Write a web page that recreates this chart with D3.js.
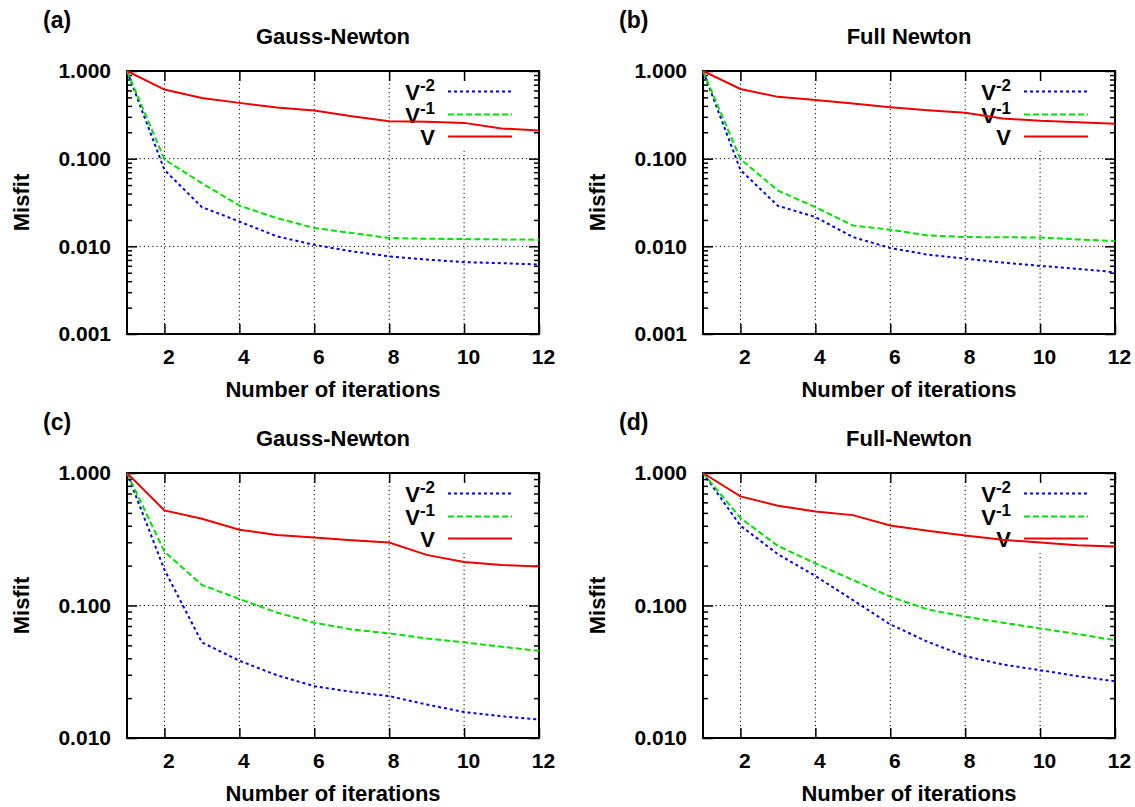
<!DOCTYPE html>
<html>
<head>
<meta charset="utf-8">
<script src="https://cdn.jsdelivr.net/npm/d3@7/dist/d3.min.js"></script>
<style>
  body { margin: 0; background: #fff; }
  svg text { font-family: 'Liberation Sans', Arial, sans-serif; font-weight: bold; fill: #000; }
</style>
</head>
<body>
<div id="chart"></div>
<script>
// iterations on the x axis
const iterations = [1, 2, 3, 4, 5, 6, 7, 8, 9, 10, 11, 12]
const xTickValues = [2, 4, 6, 8, 10, 12]

// (a) Gauss-Newton
const gnA_vm2 = [1.0, 0.0743, 0.028, 0.0192, 0.013, 0.0104, 0.00878, 0.00769, 0.00707, 0.0066, 0.00643, 0.0062]
const gnA_vm1 = [1.0, 0.098, 0.0525, 0.0292, 0.021, 0.0162, 0.0142, 0.01245, 0.0122, 0.0121, 0.012, 0.0119]
const gnA_v = [1.0, 0.614, 0.493, 0.433, 0.383, 0.354, 0.305, 0.268, 0.263, 0.256, 0.221, 0.21]

// (b) Full Newton
const fnB_vm2 = [1.0, 0.0743, 0.029, 0.0216, 0.01277, 0.00957, 0.00804, 0.00724, 0.00652, 0.00598, 0.00553, 0.00507]
const fnB_vm1 = [1.0, 0.099, 0.0433, 0.028, 0.0173, 0.0155, 0.0133, 0.01276, 0.0127, 0.0126, 0.012, 0.0115]
const fnB_v = [1.0, 0.624, 0.507, 0.468, 0.425, 0.386, 0.357, 0.333, 0.287, 0.27, 0.261, 0.25]

// (c) Gauss-Newton
const gnC_vm2 = [1.0, 0.186, 0.0527, 0.0383, 0.0298, 0.0246, 0.0223, 0.0207, 0.0179, 0.0157, 0.0146, 0.0138]
const gnC_vm1 = [1.0, 0.255, 0.143, 0.112, 0.0885, 0.0742, 0.066, 0.0616, 0.0564, 0.0527, 0.0489, 0.0455]
const gnC_v = [1.0, 0.522, 0.451, 0.373, 0.341, 0.326, 0.311, 0.299, 0.241, 0.213, 0.202, 0.197]

// (d) Full-Newton
const fnD_vm2 = [1.0, 0.4, 0.244, 0.167, 0.11, 0.072, 0.0532, 0.0415, 0.0359, 0.0325, 0.0293, 0.0268]
const fnD_vm1 = [1.0, 0.457, 0.282, 0.208, 0.156, 0.1166, 0.0935, 0.0823, 0.0742, 0.0672, 0.0608, 0.0548]
const fnD_v = [1.0, 0.666, 0.566, 0.513, 0.481, 0.402, 0.366, 0.338, 0.313, 0.299, 0.285, 0.279]

const seriesNames = [
  { base: 'V', sup: '-2' },
  { base: 'V', sup: '-1' },
  { base: 'V', sup: '' }
]
const seriesColors = ['#0000ee', '#00e000', '#ee0000']
const seriesDash = ['3,3', '6,3', null]

const panels = [
  { tag: '(a)', title: 'Gauss-Newton', yMin: 0.001, left: 127, right: 539, top: 71, bottom: 334, data: [gnA_vm2, gnA_vm1, gnA_v] },
  { tag: '(b)', title: 'Full Newton', yMin: 0.001, left: 703, right: 1115, top: 71, bottom: 334, data: [fnB_vm2, fnB_vm1, fnB_v] },
  { tag: '(c)', title: 'Gauss-Newton', yMin: 0.01, left: 127, right: 539, top: 473, bottom: 738, data: [gnC_vm2, gnC_vm1, gnC_v] },
  { tag: '(d)', title: 'Full-Newton', yMin: 0.01, left: 703, right: 1115, top: 473, bottom: 738, data: [fnD_vm2, fnD_vm1, fnD_v] }
]

const svg = d3
  .select('#chart')
  .append('svg')
  .attr('width', 1135)
  .attr('height', 807)

panels.forEach(drawPanel)

function drawPanel(p) {
  const g = svg.append('g')

  const xScale = d3.scaleLinear().domain([1, 12]).range([p.left, p.right])
  const yScale = d3.scaleLog().domain([p.yMin, 1]).range([p.bottom, p.top])

  const decades = []
  for (let v = p.yMin; v <= 1.0001; v *= 10) decades.push(+v.toPrecision(3))
  const minors = []
  decades.slice(0, -1).forEach(d => {
    for (let m = 2; m <= 9; m++) minors.push(d * m)
  })

  // grid
  g.selectAll('.vgrid')
    .data(xTickValues.filter(d => d < 12))
    .enter()
    .append('line')
    .attr('x1', d => xScale(d))
    .attr('x2', d => xScale(d))
    .attr('y1', p.top)
    .attr('y2', p.bottom)
    .attr('stroke', '#000')
    .attr('stroke-width', 1)
    .attr('stroke-dasharray', '1.2,3')

  g.selectAll('.hgrid')
    .data(decades.filter(d => d > p.yMin && d < 1))
    .enter()
    .append('line')
    .attr('x1', p.left)
    .attr('x2', p.right)
    .attr('y1', d => yScale(d))
    .attr('y2', d => yScale(d))
    .attr('stroke', '#000')
    .attr('stroke-width', 1)
    .attr('stroke-dasharray', '1.2,3')

  // key background
  g.append('rect')
    .attr('x', p.right - 141)
    .attr('y', p.top + 1)
    .attr('width', 139)
    .attr('height', 79)
    .attr('fill', '#fff')

  // axes with inward ticks
  const styleAxis = sel => {
    sel.select('.domain').remove()
    sel.selectAll('line').attr('stroke', '#000').attr('stroke-width', 1.5)
    sel.attr('font-family', null).attr('font-size', null)
    sel.selectAll('text').attr('font-size', 21)
  }

  g.append('g')
    .attr('transform', 'translate(0,' + p.bottom + ')')
    .call(d3.axisBottom(xScale).tickValues(xTickValues).tickSizeInner(-10).tickSizeOuter(0).tickPadding(15))
    .call(styleAxis)
    .selectAll('text')
    .attr('dx', 4)

  g.append('g')
    .attr('transform', 'translate(0,' + p.top + ')')
    .call(d3.axisTop(xScale).tickValues(xTickValues).tickSizeInner(-10).tickSizeOuter(0).tickFormat(''))
    .call(styleAxis)

  g.append('g')
    .attr('transform', 'translate(' + p.left + ',0)')
    .call(d3.axisLeft(yScale).tickValues(decades).tickFormat(d3.format('.3f')).tickSizeInner(-10).tickSizeOuter(0).tickPadding(16))
    .call(styleAxis)

  g.append('g')
    .attr('transform', 'translate(' + p.left + ',0)')
    .call(d3.axisLeft(yScale).tickValues(minors).tickSizeInner(-5).tickSizeOuter(0).tickFormat(''))
    .call(styleAxis)

  g.append('g')
    .attr('transform', 'translate(' + p.right + ',0)')
    .call(d3.axisRight(yScale).tickValues(decades).tickSizeInner(-10).tickSizeOuter(0).tickFormat(''))
    .call(styleAxis)

  g.append('g')
    .attr('transform', 'translate(' + p.right + ',0)')
    .call(d3.axisRight(yScale).tickValues(minors).tickSizeInner(-5).tickSizeOuter(0).tickFormat(''))
    .call(styleAxis)

  // border
  g.append('rect')
    .attr('x', p.left)
    .attr('y', p.top)
    .attr('width', p.right - p.left)
    .attr('height', p.bottom - p.top)
    .attr('fill', 'none')
    .attr('stroke', '#000')
    .attr('stroke-width', 2)

  // key
  const rowY = [p.top + 20.5, p.top + 43.5, p.top + 65.5]
  seriesNames.forEach((s, i) => {
    const t = g.append('text')
      .attr('x', p.right - 104)
      .attr('y', rowY[i] + 8)
      .attr('text-anchor', 'end')
      .attr('font-size', 22)
      .text(s.base)
    if (s.sup) {
      t.append('tspan')
        .attr('dy', -9)
        .attr('font-size', 17)
        .text(s.sup)
    }
    g.append('line')
      .attr('x1', p.right - 91)
      .attr('x2', p.right - 27)
      .attr('y1', rowY[i])
      .attr('y2', rowY[i])
      .attr('stroke', seriesColors[i])
      .attr('stroke-width', 2)
      .attr('stroke-dasharray', seriesDash[i])
  })

  // data lines
  const line = d3
    .line()
    .x((d, i) => xScale(iterations[i]))
    .y(d => yScale(d))

  p.data.forEach((values, i) => {
    g.append('path')
      .attr('d', line(values))
      .attr('fill', 'none')
      .attr('stroke', seriesColors[i])
      .attr('stroke-width', 2)
      .attr('stroke-dasharray', seriesDash[i])
  })

  // texts
  const cx = (p.left + p.right) / 2
  g.append('text')
    .attr('x', cx)
    .attr('y', p.top - 27)
    .attr('text-anchor', 'middle')
    .attr('font-size', 22)
    .text(p.title)

  g.append('text')
    .attr('x', cx)
    .attr('y', p.bottom + 63)
    .attr('text-anchor', 'middle')
    .attr('font-size', 22)
    .text('Number of iterations')

  g.append('text')
    .attr('transform', 'translate(' + (p.left - 98) + ',' + (p.top + p.bottom) / 2 + ') rotate(-90)')
    .attr('text-anchor', 'middle')
    .attr('font-size', 22)
    .text('Misfit')

  g.append('text')
    .attr('x', p.left - 84)
    .attr('y', p.top - 43)
    .attr('font-size', 23)
    .text(p.tag)
}
</script>
</body>
</html>
